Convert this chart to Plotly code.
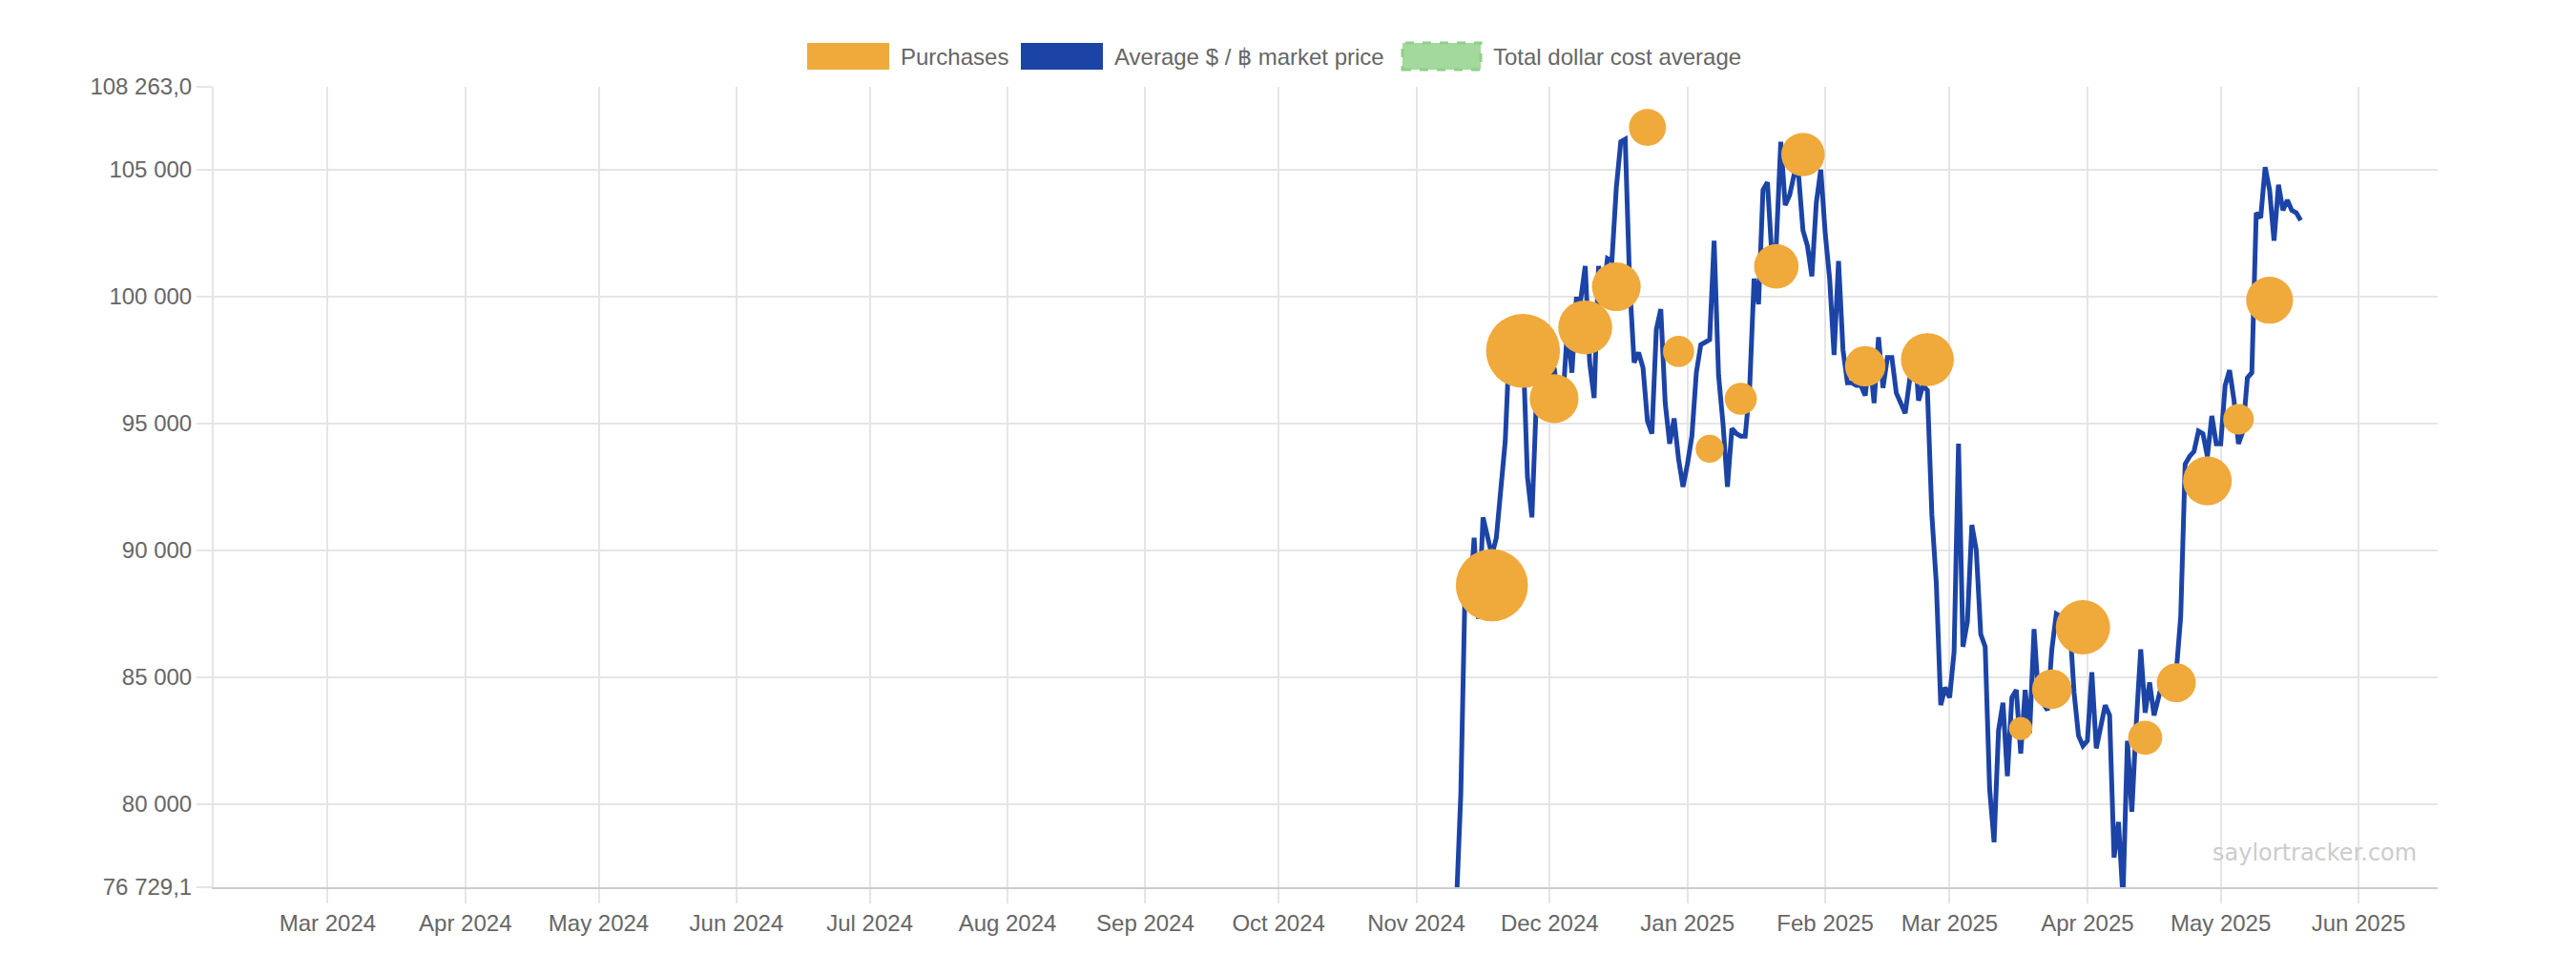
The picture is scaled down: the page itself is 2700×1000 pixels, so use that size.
import math
import pandas as pd
import plotly.graph_objects as go

# ---------------- data ----------------
# Average $/BTC market price, one value per day starting 2024-11-10
price_start = "2024-11-10"
price_nov = [76000, 80400, 88900, 87900, 90500, 87300, 91300, 90600, 89800, 90500, 92300,
             94300, 98400, 99200, 97800, 98000, 92900, 91300, 95900, 95600, 97500]
price_dec = [96400, 97200, 95900, 96000, 98800, 97000, 99900, 99900, 101200, 97400, 96000,
             101200, 100000, 101500, 101400, 104300, 106100, 106200, 100500, 97400, 97800,
             97200, 95100, 94600, 98700, 99500, 95800, 94200, 95200, 93600, 92500]
price_jan = [93400, 94500, 97000, 98100, 98200, 98300, 102200, 96900, 95000, 92500, 94800,
             94600, 94500, 94500, 96400, 100700, 99700, 104200, 104500, 101600, 102100,
             106100, 103600, 104000, 104800, 104800, 102600, 102000, 100800, 103700, 105000]
price_feb = [102500, 100700, 97700, 101400, 97900, 96600, 96600, 96500, 96500, 96100, 97600,
             95800, 98400, 96400, 97600, 97600, 96200, 95800, 95400, 96700, 98300,
             95900, 96500, 96300, 91400, 88700, 83900, 84600]
price_mar = [84200, 86000, 94200, 86200, 87200, 91000, 90000, 86700, 86200, 80600, 78500,
             82900, 84000, 81100, 84200, 84500, 82000, 84500, 82800, 86900, 84200,
             84000, 83700, 86100, 87500, 87400, 86900, 87200, 84400, 82700, 82300]
price_apr = [82500, 85200, 82200, 83100, 83900, 83500, 77900, 79300, 76300, 82500, 79700,
             83200, 86100, 83600, 84800, 83500, 84200, 84900, 84500, 85100, 85200,
             87400, 93400, 93700, 93900, 94700, 94600, 93700, 95300, 94200]
price_may = [94200, 96500, 97100, 95900, 94200, 94700, 96800, 97000, 103300, 103100, 105100,
             104200, 102200, 104400, 103400, 103800, 103400, 103300, 103000]

# Purchases (date, average purchase price in $, BTC acquired)
purchase_dates = ["2024-11-18", "2024-11-25", "2024-12-02", "2024-12-09", "2024-12-16",
                  "2024-12-23", "2024-12-30", "2025-01-06", "2025-01-13", "2025-01-21",
                  "2025-01-27", "2025-02-10", "2025-02-24", "2025-03-17", "2025-03-24",
                  "2025-03-31", "2025-04-14", "2025-04-21", "2025-04-28", "2025-05-05",
                  "2025-05-12"]
purchase_prices = [88627, 97862, 95976, 98783, 100386, 106662, 97837, 94004, 95972, 101191,
                   105596, 97255, 97514, 82981, 84529, 86969, 82618, 84785, 92737, 95167,
                   99856]
purchase_btc = [51780, 55500, 15400, 21550, 15350, 5262, 2138, 1070, 2530, 11000,
                10107, 7633, 20356, 130, 6911, 22048, 3459, 6556, 15355, 1895, 13390]

# Axis bounds / ticks
y_min = 76729.1
y_max = 108263.0
y_step = 5000
x_range = ["2024-02-04 08:50", "2025-06-18 19:40"]

legend_labels = ["Purchases", "Average $ / \u0E3F market price", "Total dollar cost average"]
watermark = "saylortracker.com"

# ---------------- styling ----------------
ORANGE = "#f0a93b"
BLUE = "#1c44a6"
GREEN_FILL = "#a3d99c"
GREEN_LINE = "#8fd088"
GRID = "#e5e5e5"
TEXT = "#666666"
FONT = "Liberation Sans, Arial, Helvetica, sans-serif"

W, H = 2700, 1000
L, R, T, B = 224, 145, 91, 70
PW, PH = W - L - R, H - T - B


def px_x(p):
    return (p - L) / PW


def px_y(p):
    return (H - B - p) / PH


prices = price_nov + price_dec + price_jan + price_feb + price_mar + price_apr + price_may
price_dates = pd.date_range(price_start, periods=len(prices), freq="D")

bubble_sizes = [2 * (10.85 + 0.1186 * math.sqrt(b)) for b in purchase_btc]


def fmt(v, dec):
    s = f"{v:,.{dec}f}"
    return s.replace(",", " ").replace(".", ",")


tickvals = [y_min]
v = math.ceil(y_min / y_step) * y_step
while v < y_max:
    tickvals.append(v)
    v += y_step
tickvals.append(y_max)
ticktext = [fmt(t, 1) if t in (y_min, y_max) else fmt(t, 0) for t in tickvals]

fig = go.Figure()
fig.add_trace(go.Scatter(
    x=price_dates, y=prices, mode="lines", name=legend_labels[1],
    line=dict(color=BLUE, width=5), showlegend=False,
))
fig.add_trace(go.Scatter(
    x=pd.to_datetime(purchase_dates), y=purchase_prices, mode="markers", name=legend_labels[0],
    marker=dict(color=ORANGE, size=bubble_sizes, sizemode="diameter", line=dict(width=0), opacity=1),
    showlegend=False, cliponaxis=True,
))

# manual legend (Chart.js style boxes)
shapes = []
annotations = []
legend_items = [
    (846, 932, ORANGE, None, 942, legend_labels[0]),
    (1070, 1156, BLUE, None, 1166, legend_labels[1]),
    (1470, 1552, GREEN_FILL, GREEN_LINE, 1563, legend_labels[2]),
]
for x0, x1, fill, border, tx, label in legend_items:
    shapes.append(dict(
        type="rect", xref="paper", yref="paper",
        x0=px_x(x0), x1=px_x(x1), y0=px_y(73), y1=px_y(45),
        fillcolor=fill,
        line=dict(color=border if border else fill, width=3 if border else 0,
                  dash="dash" if border else "solid"),
        layer="above",
    ))
    annotations.append(dict(
        xref="paper", yref="paper", x=px_x(tx), y=px_y(59), xanchor="left", yanchor="middle",
        text=label, showarrow=False, font=dict(family=FONT, size=24, color=TEXT),
    ))

annotations.append(dict(
    xref="paper", yref="paper", x=px_x(2426), y=px_y(894), xanchor="center", yanchor="middle",
    text=watermark, showarrow=False,
    font=dict(family="DejaVu Sans, Verdana, sans-serif", size=24, color="#cccccc"),
))

fig.update_layout(
    width=W, height=H,
    margin=dict(l=L, r=R, t=T, b=B, pad=0),
    paper_bgcolor="white", plot_bgcolor="white",
    showlegend=False,
    shapes=shapes, annotations=annotations,
    font=dict(family=FONT, size=24, color=TEXT),
    xaxis=dict(
        type="date", range=x_range,
        tick0="2024-01-01", dtick="M1", tickformat="%b %Y",
        showgrid=True, gridcolor=GRID, gridwidth=2,
        ticks="outside", ticklen=15, tickwidth=2, tickcolor=GRID,
        showline=True, linecolor="#cccccc", linewidth=2,
        tickfont=dict(family=FONT, size=24, color=TEXT),
        zeroline=False, fixedrange=True,
    ),
    yaxis=dict(
        range=[y_min, y_max], tickmode="array", tickvals=tickvals, ticktext=ticktext,
        showgrid=True, gridcolor=GRID, gridwidth=2,
        ticks="outside", ticklen=16, tickwidth=2, tickcolor=GRID,
        showline=True, linecolor=GRID, linewidth=2,
        tickfont=dict(family=FONT, size=24, color=TEXT),
        zeroline=False, fixedrange=True,
    ),
)

fig.write_html("out.html")
